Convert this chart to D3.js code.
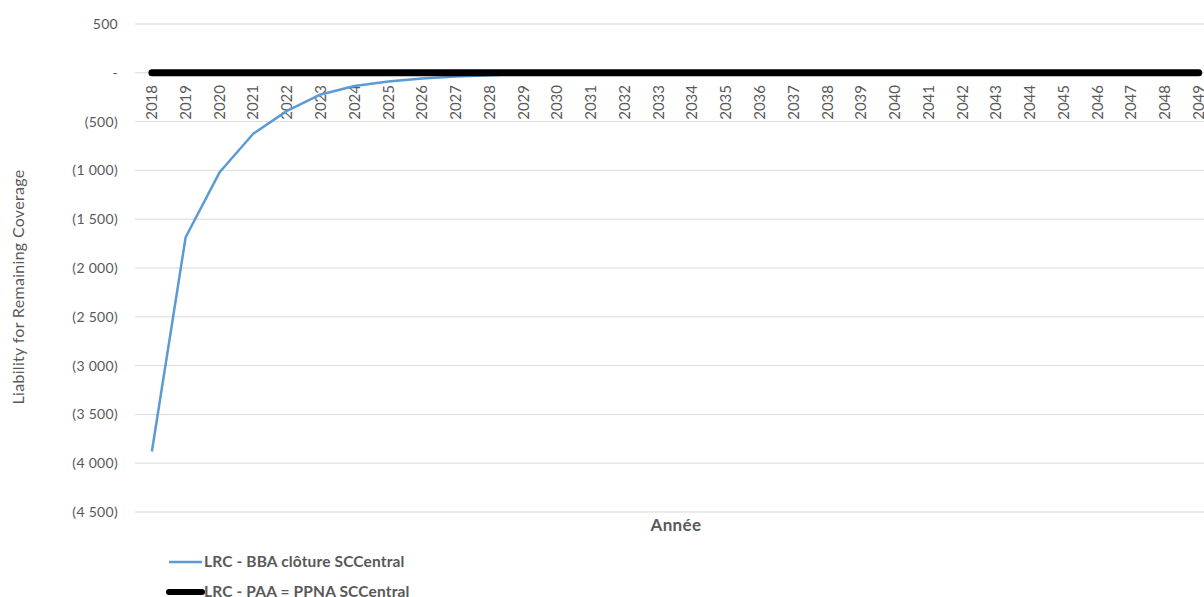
<!DOCTYPE html>
<html><head><meta charset="utf-8">
<script src="https://cdn.jsdelivr.net/npm/d3@7"></script>
<style>body{margin:0;background:#fff;overflow:hidden}svg{display:block}text{font-family:Lato,"Open Sans",sans-serif;fill:#595959}</style>
</head><body>
<svg id="c" width="1204" height="597"></svg>
<script>
const years = d3.range(2018, 2050).map(String);
const bbaValues = [-3880,-1685,-1022,-625,-390,-222,-135,-89,-58,-38,-24,-12,-8,-5,-3,-2,-1,-1,0,0,0,0,0,0,0,0,0,0,0,0,0,0];
const paaValues = years.map(() => 0);
const yTicks = [500,0,-500,-1000,-1500,-2000,-2500,-3000,-3500,-4000,-4500];
const seriesNames = ["LRC - BBA clôture SCCentral","LRC - PAA = PPNA SCCentral"];

const svg = d3.select("#c");
const step = 33.77;
const x = d3.scaleBand().domain(years).range([135, 135 + step*years.length]);
const y = d3.scaleLinear().domain([-4500, 500]).range([512, 24]);
const fmt = v => v === 0 ? "-" : (v < 0 ? "(" + d3.format(",")(-v).replace(/,/g, " ") + ")" : d3.format(",")(v).replace(/,/g, " "));

// gridlines
svg.append("g").selectAll("line").data(yTicks).join("line")
  .attr("x1", 135).attr("x2", 1216).attr("y1", d => y(d)).attr("y2", d => y(d))
  .attr("stroke", "#d9d9d9").attr("stroke-width", 1);

// y labels
svg.append("g").selectAll("text").data(yTicks).join("text")
  .attr("x", 118).attr("y", d => y(d)).attr("dy", "0.35em")
  .attr("text-anchor", "end").style("font-size", "14px").style("letter-spacing", "0.3px").text(fmt);

// x labels
svg.append("g").selectAll("text").data(years).join("text")
  .attr("transform", d => `translate(${x(d)+x.bandwidth()/2},85) rotate(-90)`)
  .attr("dy", "0.35em").attr("text-anchor", "end").style("font-size", "15px").text(d => d);

const line = d3.line().x((d,i) => x(years[i]) + x.bandwidth()/2).y(d => y(d));

svg.append("path").datum(bbaValues).attr("d", line).attr("fill", "none")
  .attr("stroke", "#5b9bd5").attr("stroke-width", 2.5).attr("stroke-linejoin", "round");
svg.append("path").datum(paaValues).attr("d", line).attr("fill", "none")
  .attr("stroke", "#000").attr("stroke-width", 7).attr("stroke-linecap", "round");

// axis titles
svg.append("text").attr("transform", "translate(18,287) rotate(-90)").attr("dy", "0.35em")
  .attr("text-anchor", "middle").style("font-size", "16px").style("letter-spacing", "0.3px").text("Liability for Remaining Coverage");
svg.append("text").attr("x", 676).attr("y", 525).attr("dy", "0.35em")
  .attr("text-anchor", "middle").style("font-size", "17px").style("font-weight", "bold").style("letter-spacing", "0.4px").text("Année");

// legend
const legend = [{name: seriesNames[0], color: "#5b9bd5", w: 2.5, cap: "butt", y: 562},
                {name: seriesNames[1], color: "#000", w: 6, cap: "round", y: 592}];
const lg = svg.append("g").selectAll("g").data(legend).join("g");
lg.append("line").attr("x1", 169).attr("x2", 202).attr("y1", d => d.y).attr("y2", d => d.y)
  .attr("stroke", d => d.color).attr("stroke-width", d => d.w).attr("stroke-linecap", d => d.cap);
lg.append("text").attr("x", 204).attr("y", d => d.y).attr("dy", "0.35em")
  .style("font-size", "15.5px").style("font-weight", "bold").style("letter-spacing", "0.15px").text(d => d.name);
</script>
</body></html>
